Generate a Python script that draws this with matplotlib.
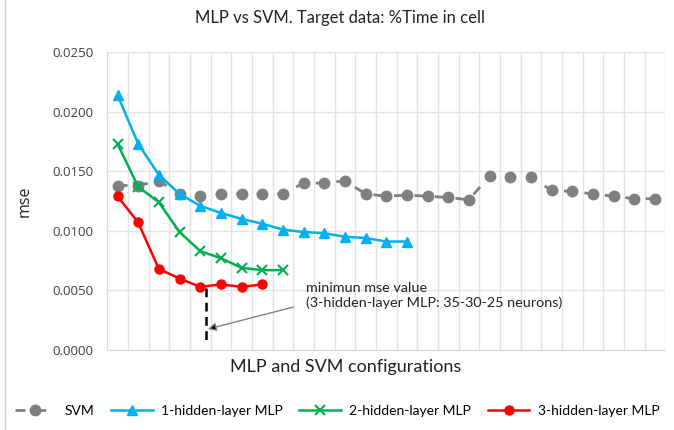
import matplotlib
matplotlib.use('Agg')
import matplotlib.pyplot as plt
from matplotlib.lines import Line2D
import numpy as np

# 数据
svm = [0.0138, 0.0138, 0.0142, 0.0131, 0.0129, 0.0131, 0.0131, 0.0131, 0.0131,
       0.0140, 0.0140, 0.0142, 0.0131, 0.0129, 0.0130, 0.0129, 0.0128, 0.0126,
       0.0146, 0.0145, 0.0145, 0.0134, 0.0133, 0.0131, 0.0129, 0.0127, 0.0127]
mlp1 = [0.0214, 0.0173, 0.0147, 0.0131, 0.0121, 0.0115, 0.0110, 0.0106,
        0.0101, 0.0099, 0.0098, 0.0095, 0.0094, 0.0091, 0.0091]
mlp2 = [0.0173, 0.0137, 0.0124, 0.0099, 0.0083, 0.0077, 0.0069, 0.0067, 0.0067]
mlp3 = [0.0129, 0.0107, 0.0068, 0.0060, 0.0053, 0.0055, 0.0053, 0.0055]

y_ticks = [0.0, 0.005, 0.010, 0.015, 0.020, 0.025]

# annotation positions (category index, mse)
min_x = 4.3
min_line = (0.0052, 0.0004)
arrow_tip = (4.37, 0.00176)
arrow_tail = (8.5, 0.0036)
note_pos = (9.1, 0.0046)
note_text = "minimun mse value\n(3-hidden-layer MLP: 35-30-25 neurons)"

fig = plt.figure(figsize=(6.74, 4.30), dpi=100)
ax = fig.add_axes([0.159, 0.186, 0.828, 0.693])

grid_c = '#e3e3e3'

ax.plot(np.arange(len(svm)), svm, color='#7f7f7f', lw=2.0, ls=(0, (3.6, 3.8)),
        marker='o', ms=7.5, label='SVM')
ax.plot(np.arange(len(mlp1)), mlp1, color='#00b0f0', lw=1.8,
        marker='^', ms=7.5, label='1-hidden-layer MLP')
ax.plot(np.arange(len(mlp2)), mlp2, color='#00b050', lw=1.8,
        marker='x', ms=7, mew=1.5, label='2-hidden-layer MLP')
ax.plot(np.arange(len(mlp3)), mlp3, color='#ff0000', lw=1.8,
        marker='o', ms=6.5, label='3-hidden-layer MLP')

# 注释
ax.plot([min_x, min_x], list(min_line), color='black', lw=1.8, ls=(0, (3.5, 2.2)))
ax.annotate('', xy=arrow_tip, xytext=arrow_tail,
            arrowprops=dict(arrowstyle='-|>', ec='#808080', fc='black', lw=1.0,
                            mutation_scale=12, shrinkA=0, shrinkB=0))
ax.text(note_pos[0], note_pos[1], note_text, fontsize=10.4, family='Lato',
        va='center', ha='left', linespacing=1.25, color='#222222')

# 轴
n = len(svm)
ax.set_xlim(-0.5, n - 0.5)
ax.set_ylim(0, 0.025)
ax.set_xticks([])
ax.set_xticks(np.arange(-0.5, n), minor=True)
ax.tick_params(axis='x', which='both', length=0, labelbottom=False)
ax.set_yticks(y_ticks)
ax.set_yticklabels([f"{v:.4f}" for v in y_ticks], family='Open Sans', fontsize=9.5,
                   color='#404040')
ax.tick_params(axis='y', length=0, pad=10)
ax.grid(True, which='minor', axis='x', color=grid_c, lw=1.0)
ax.grid(True, which='major', axis='y', color=grid_c, lw=1.0)
ax.set_axisbelow(True)
for s in ['top', 'right']:
    ax.spines[s].set_visible(False)
for s in ['left', 'bottom']:
    ax.spines[s].set_color('#d9d9d9')

ax.set_ylabel('mse', family='Open Sans', fontsize=11.5, labelpad=14, color='#222222')
fig.text(0.513, 0.147, 'MLP and SVM configurations', family='Lato', fontsize=13,
         ha='center', va='center', color='#222222')
fig.text(0.505, 0.958, 'MLP vs SVM. Target data: %Time in cell', family='Lato',
         fontsize=12, ha='center', va='center', color='#222222')

fig.legend(loc='center', bbox_to_anchor=(0.5, 0.045), ncol=4, frameon=False,
           prop={'family': 'Lato', 'size': 10}, handlelength=3.0,
           columnspacing=1.2, handletextpad=0.6)

fig.add_artist(Line2D([0.008, 0.008], [0.0, 1.0], color='#d0d0d0', lw=1.0))

fig.savefig('out.png', dpi=100)
